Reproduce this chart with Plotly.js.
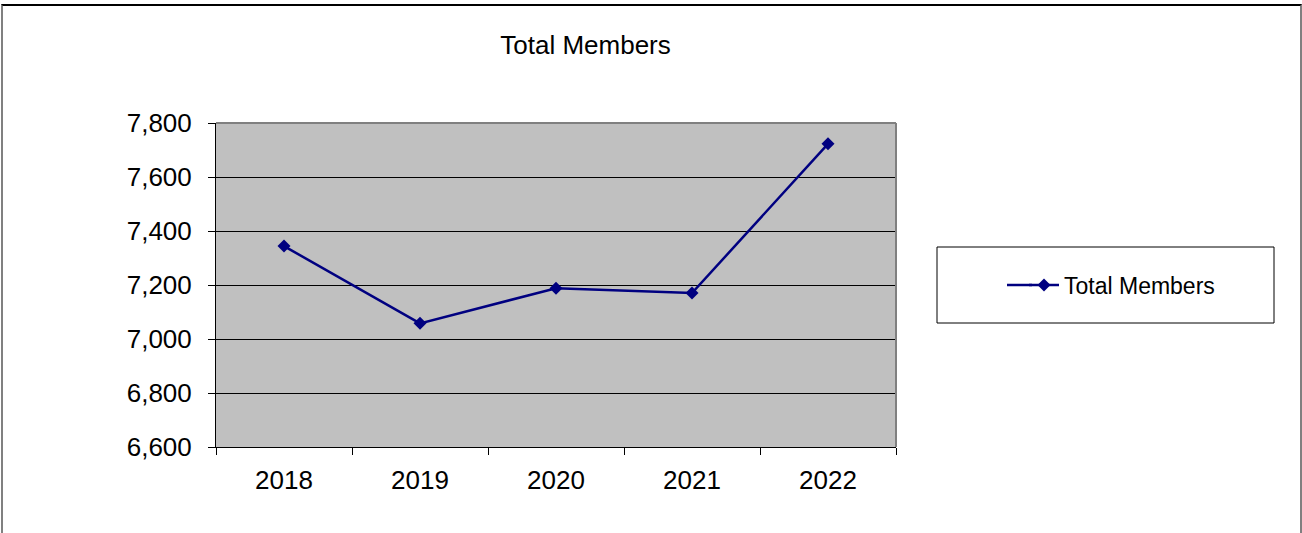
<!DOCTYPE html>
<html>
<head>
<meta charset="utf-8">
<script src="https://cdn.plot.ly/plotly-3.0.1.min.js"></script>
<style>
  html, body { margin: 0; padding: 0; background: #ffffff; }
  #wrap { position: relative; width: 1302px; height: 533px; overflow: hidden; }
  #chart { width: 1302px; height: 533px; }
  #frame { position: absolute; left: 1px; top: 4px; width: 1297px; height: 600px;
           border-top: 2px solid #000000; border-left: 2px solid #808080; border-right: 2px solid #808080;
           pointer-events: none; }
</style>
</head>
<body>
<div id="wrap">
  <div id="chart"></div>
  <div id="frame"></div>
</div>
<script>
const years = ["2018", "2019", "2020", "2021", "2022"];
const totalMembers = [7344, 7058, 7188, 7170, 7723];
const seriesName = "Total Members";
const chartTitle = "Total Members";

const W = 1302, H = 533;
const L = 216, R = 896, T = 123, B = 447;
const pw = R - L, ph = B - T;
const px = v => (v - L) / pw;
const py = v => 1 - (v - T) / ph;

const font = "Liberation Sans, Arial, sans-serif";
const navy = "#000080";

const trace = {
  x: years,
  y: totalMembers,
  type: "scatter",
  mode: "lines+markers",
  name: seriesName,
  line: { color: navy, width: 2.5 },
  marker: { symbol: "diamond", size: 10, color: navy }
};

const layout = {
  width: W, height: H,
  margin: { l: L, r: W - R, t: T, b: H - B, pad: 0 },
  paper_bgcolor: "#ffffff",
  plot_bgcolor: "#C0C0C0",
  font: { family: font, color: "#000000" },
  title: {
    text: chartTitle,
    font: { family: font, size: 26, color: "#000000" },
    x: 585.5 / W, xref: "container", xanchor: "center",
    y: 1 - 45 / H, yref: "container", yanchor: "middle"
  },
  showlegend: true,
  legend: {
    x: px(1024), xanchor: "left",
    y: py(285), yanchor: "middle",
    bgcolor: "rgba(0,0,0,0)",
    borderwidth: 0,
    font: { family: font, size: 23, color: "#000000" }
  },
  xaxis: {
    type: "category",
    range: [-0.5, 4.5],
    showgrid: false,
    zeroline: false,
    showline: true, linecolor: "#000000", linewidth: 1,
    ticks: "outside", ticklen: 7, tickcolor: "#000000", tickwidth: 1,
    tickson: "boundaries",
    ticklabelstandoff: 10,
    tickfont: { family: font, size: 26, color: "#000000" },
    fixedrange: true
  },
  yaxis: {
    range: [6600, 7800],
    dtick: 200,
    tick0: 6600,
    tickformat: ",d",
    showgrid: true, gridcolor: "#000000", gridwidth: 1,
    zeroline: false,
    showline: true, linecolor: "#000000", linewidth: 1,
    ticks: "outside", ticklen: 7, tickcolor: "#000000", tickwidth: 1,
    ticklabelstandoff: 11,
    tickfont: { family: font, size: 26, color: "#000000" },
    fixedrange: true
  },
  shapes: [
    { type: "line", xref: "paper", yref: "paper", x0: 0, x1: 1, y0: 1, y1: 1,
      line: { color: "#808080", width: 2 }, layer: "above" },
    { type: "line", xref: "paper", yref: "paper", x0: 1, x1: 1, y0: 0, y1: 1,
      line: { color: "#808080", width: 2 }, layer: "above" },
    { type: "rect", xref: "paper", yref: "paper",
      x0: px(937), x1: px(1274), y0: py(323), y1: py(247),
      line: { color: "#000000", width: 1 }, fillcolor: "rgba(0,0,0,0)" },
    { type: "line", xref: "paper", yref: "paper",
      x0: px(1007), x1: px(1032), y0: py(285), y1: py(285),
      line: { color: navy, width: 2.5 } }
  ]
};

Plotly.newPlot("chart", [trace], layout, { displayModeBar: false, staticPlot: true });
</script>
</body>
</html>
